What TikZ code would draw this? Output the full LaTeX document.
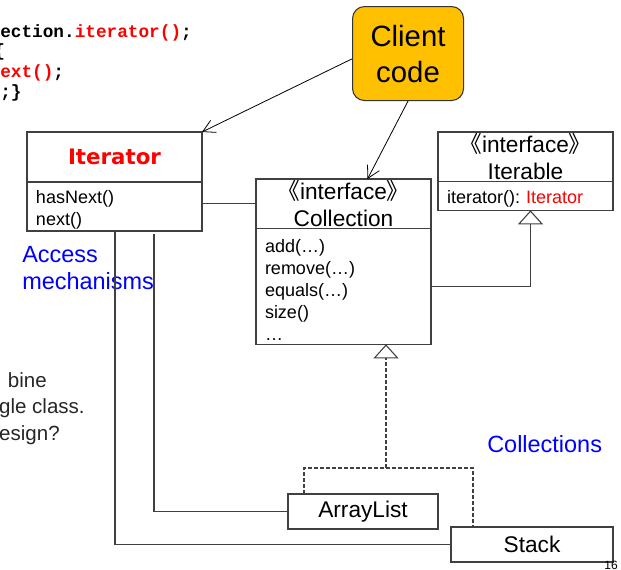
\documentclass[tikz,border=0pt]{standalone}
\usepackage{fontspec}
\setmainfont{Liberation Sans}
\setmonofont{Liberation Mono}
\newfontfamily\cjkfont{Noto Sans CJK SC}
\newfontfamily\verafont{DejaVu Sans}
\usetikzlibrary{arrows.meta,positioning,calc}
\definecolor{itRed}{HTML}{FF0000}
\definecolor{itBlue}{HTML}{0000FF}
\definecolor{itAmber}{HTML}{FFC000}
\definecolor{itLine}{HTML}{404040}
\newcommand{\umlstereo}[1]{{\cjkfont 《}#1{\cjkfont 》}}

\begin{document}
\begin{tikzpicture}[x=0.75pt,y=-0.75pt,
    head/.style={draw=itLine,line width=0.8pt,outer sep=0pt,minimum width=131.25pt,
                 minimum height=37pt,inner xsep=6.75pt,inner ysep=0pt,
                 text width=117.75pt,align=center,font=\fontsize{17}{20}\selectfont},
    body/.style={draw=itLine,line width=0.8pt,outer sep=0pt,minimum width=131.25pt,
                 inner xsep=6.75pt,inner ysep=0pt,text width=117.75pt,align=left,
                 font=\fontsize{13.5}{16.5}\selectfont,
                 execute at begin node=\rule{0pt}{15pt}},
    leaf/.style={draw=itLine,line width=0.8pt,outer sep=0pt,minimum height=26.25pt,
                 inner sep=0pt,anchor=north west,font=\fontsize{17}{20}\selectfont},
    code/.style={inner sep=0pt,anchor=base west,
                 font=\ttfamily\bfseries\fontsize{13.3}{15}\selectfont},
    note/.style={inner sep=0pt,anchor=base west,text=itBlue,align=left,
                 font=\fontsize{17.6}{20.25}\selectfont},
    para/.style={inner sep=0pt,anchor=base east,text=black!85,
                 font=\fontsize{15.4}{20}\selectfont},
    link/.style={draw=itLine,line width=0.8pt},
    uses/.style={line width=0.6pt,-{Straight Barb[length=9pt,width=10pt]}},
    isa/.style={link,-{Triangle[open,length=10.5pt,width=18.75pt,fill=white]}}]

  \useasboundingbox (0,0) rectangle (621,569);

  \node[code] (src1) at (0,37) {ection.\textcolor{itRed}{iterator()};};
  \node[code] (src2) at (-6,56) {\{};
  \node[code] (src3) at (0,77) {\textcolor{itRed}{ext()};};
  \node[code] (src4) at (0,97) {;\}};

  \node[draw=black!80,fill=itAmber,line width=0.8pt,rounded corners=9pt,
        minimum width=83.25pt,minimum height=70.5pt,align=center,anchor=north west,
        font=\fontsize{22}{27}\selectfont] (client) at (352,6) {Client\\code};

  \node[head,anchor=north west,minimum height=37.5pt,text=itRed,
        font=\verafont\bfseries\fontsize{16}{19}\selectfont] (itH) at (27,132) {Iterator};
  \node[body,minimum height=36.75pt,below=0pt of itH] (itB) {hasNext()\\next()};

  \node[head,anchor=north west] (colH) at (256,179) {\umlstereo{interface}\\Collection};
  \node[body,minimum height=87pt,below=0pt of colH] (colB)
       {add(…)\\remove(…)\\equals(…)\\size()\\…};

  \node[head,anchor=north west] (ibH) at (438,132) {\umlstereo{interface}\\Iterable};
  \node[body,minimum height=21.75pt,below=0pt of ibH] (ibB)
       {iterator():\ \textcolor{itRed}{Iterator}};

  \node[leaf,minimum width=112.5pt] (al) at (288,494) {ArrayList};
  \node[leaf,minimum width=121.5pt] (st) at (451,527) {Stack};

  \node[note] (access) at (22,289) {Access\\mechanisms};
  \node[note] (colls) at (487,452) {Collections};

  \node[para] (p1) at (47,387) {bine};
  \node[para] (p2) at (85,413) {gle class.};
  \node[para] (p3) at (60,440) {esign?};

  \node[inner sep=0pt,anchor=north,font=\fontsize{9}{10}\selectfont] (pageno) at (611,561) {16};

  \draw[uses] ([yshift=-4pt]client.west) -- (itH.north east);
  \draw[uses] (client.south) -- ([xshift=18pt]colH.north);

  \draw[link] (colH.west) -- (colH.west -| itB.east);
  \draw[isa] (colB.east) -| ([xshift=3.75pt]ibB.south);

  \coordinate (fork) at (386,468);
  \coordinate (alTop) at ([xshift=12pt]al.north west);
  \coordinate (stTop) at ([xshift=16.5pt]st.north west);
  \draw[link,dash pattern=on 3pt off 1.5pt] (alTop) |- (fork) -| (stTop);
  \draw[isa,dash pattern=on 3pt off 1.5pt] (fork) -- (fork |- colB.south);

  \draw[link] (al.west) -| ([shift={(95.25pt,-2.25pt)}]itB.south west);
  \draw[link] (st.west) -| ([xshift=66pt]itB.south west);
\end{tikzpicture}
\end{document}
